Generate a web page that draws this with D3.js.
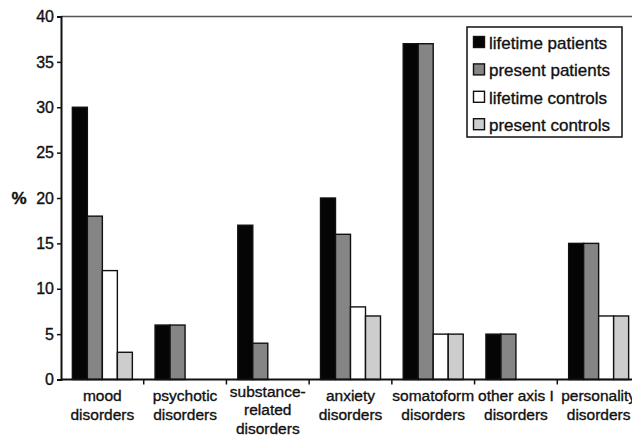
<!DOCTYPE html>
<html>
<head>
<meta charset="utf-8">
<script src="https://cdn.jsdelivr.net/npm/d3@7"></script>
<style>
  body { margin: 0; background: #fff; }
  text { font-family: "Liberation Sans", Arial, sans-serif; fill: #111; stroke: #111; stroke-width: 0.35px; }
</style>
</head>
<body>
<div id="chart"></div>
<script>
// data
const categories = [
  ["mood", "disorders"],
  ["psychotic", "disorders"],
  ["substance-", "related", "disorders"],
  ["anxiety", "disorders"],
  ["somatoform", "disorders"],
  ["other axis I", "disorders"],
  ["personality", "disorders"]
];
const seriesNames = ["lifetime patients", "present patients", "lifetime controls", "present controls"];
const lifetimePatients = [30, 6, 17, 20, 37, 5, 15];
const presentPatients  = [18, 6, 4, 16, 37, 5, 15];
const lifetimeControls = [12, 0, 0, 8, 5, 0, 7];
const presentControls  = [3, 0, 0, 7, 5, 0, 7];
const yTicks = [0, 5, 10, 15, 20, 25, 30, 35, 40];

const series = [lifetimePatients, presentPatients, lifetimeControls, presentControls];
const fills = ["#050505", "#858585", "#ffffff", "#cdcdcd"];

const width = 632, height = 435;
const margin = { top: 16.5, left: 61, bottom: 55, right: -8 };

const svg = d3.select("#chart").append("svg")
  .attr("width", width).attr("height", height);

const catIdx = d3.range(categories.length);
// each category takes a full band, the 4 bars sit centered in it
const xBand = d3.scaleBand().domain(catIdx).range([margin.left, width - margin.right]);
const xSub = d3.scaleBand().domain(d3.range(series.length)).range([0, 60]);

const y = d3.scaleLinear().domain([0, 40]).range([height - margin.bottom - 0.5, margin.top]);

// top border line
svg.append("line")
  .attr("x1", margin.left).attr("x2", width)
  .attr("y1", y(40)).attr("y2", y(40))
  .attr("stroke", "#555").attr("stroke-width", 1.6);

// bars
const groups = svg.selectAll(".grp")
  .data(catIdx)
  .join("g")
  .attr("class", "grp")
  .attr("transform", i => `translate(${xBand(i) + (xBand.bandwidth() - 60) / 2},0)`);

groups.selectAll("rect")
  .data(i => series.map((s, k) => ({ k, v: s[i] })).filter(d => d.v > 0))
  .join("rect")
  .attr("x", d => xSub(d.k))
  .attr("width", xSub.bandwidth())
  .attr("y", d => y(d.v))
  .attr("height", d => y(0) - y(d.v))
  .attr("fill", d => fills[d.k])
  .attr("stroke", "#111")
  .attr("stroke-width", 1.4);

// y axis
const yAxis = d3.axisLeft(y).tickValues(yTicks).tickSize(4).tickPadding(3);
const gy = svg.append("g")
  .attr("transform", `translate(${margin.left},0)`)
  .call(yAxis);
gy.select(".domain").attr("stroke", "#111").attr("stroke-width", 2);
gy.selectAll(".tick line").attr("stroke", "#111").attr("stroke-width", 1.5);
gy.selectAll(".tick text")
  .style("font-size", "16px")
  .style("font-family", "'Liberation Sans', Arial, sans-serif")
  .attr("fill", "#111");

// x axis: ticks at category boundaries
const xAxisY = y(0);
const gx = svg.append("g").attr("transform", `translate(0,${xAxisY})`);
gx.append("line")
  .attr("x1", margin.left).attr("x2", width)
  .attr("stroke", "#111").attr("stroke-width", 2);
gx.selectAll(".xt")
  .data(catIdx.slice(1))
  .join("line")
  .attr("class", "xt")
  .attr("x1", i => xBand(i)).attr("x2", i => xBand(i))
  .attr("y1", 0).attr("y2", 5)
  .attr("stroke", "#111").attr("stroke-width", 1.5);

// x labels
categories.forEach((lines, i) => {
  const cx = xBand(i) + xBand.bandwidth() / 2;
  const base = lines.length === 3 ? 396.5 : 401;
  const t = svg.append("text")
    .attr("text-anchor", "middle")
    .style("font-size", "15.5px");
  lines.forEach((ln, j) => {
    t.append("tspan").attr("x", cx).attr("y", base + j * 18.8).text(ln);
  });
});

// % label
svg.append("text")
  .attr("x", 19).attr("y", y(20) + 6)
  .attr("text-anchor", "middle")
  .style("font-size", "17px").style("font-weight", "bold")
  .text("%");

// legend
const lg = svg.append("g").attr("transform", "translate(467,27)");
lg.append("rect")
  .attr("width", 155).attr("height", 110)
  .attr("fill", "#fff").attr("stroke", "#111").attr("stroke-width", 1.5);
seriesNames.forEach((name, k) => {
  const row = lg.append("g").attr("transform", `translate(0,${15.5 + k * 27.4})`);
  row.append("rect")
    .attr("x", 6.5).attr("y", -6).attr("width", 11).attr("height", 11)
    .attr("fill", fills[k]).attr("stroke", "#111").attr("stroke-width", 1.4);
  row.append("text")
    .attr("x", 22).attr("y", 6.5)
    .style("font-size", "17px")
    .text(name);
});
</script>
</body>
</html>
